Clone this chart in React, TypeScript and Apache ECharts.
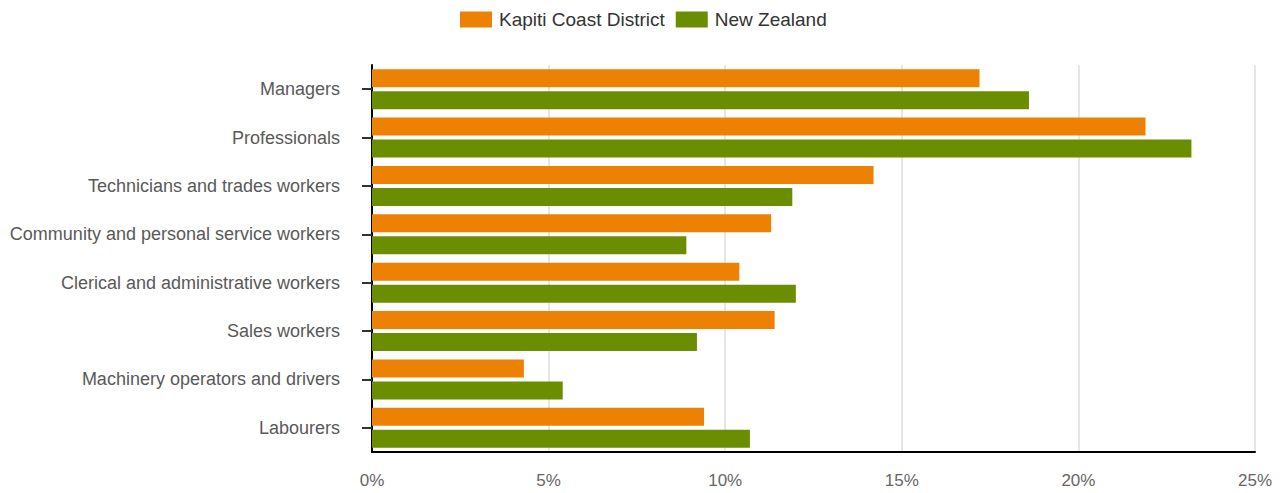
import React, { useEffect, useRef } from "react";
import * as echarts from "echarts";

const categories = [
  "Managers",
  "Professionals",
  "Technicians and trades workers",
  "Community and personal service workers",
  "Clerical and administrative workers",
  "Sales workers",
  "Machinery operators and drivers",
  "Labourers",
];
const kapiti = [17.2, 21.9, 14.2, 11.3, 10.4, 11.4, 4.3, 9.4];
const newZealand = [18.6, 23.2, 11.9, 8.9, 12.0, 9.2, 5.4, 10.7];

export default function App() {
  const ref = useRef<HTMLDivElement>(null);
  useEffect(() => {
    if (!ref.current) return;
    const chart = echarts.init(ref.current, null, { renderer: "svg" });
    chart.setOption({
      animation: false,
      textStyle: { fontFamily: "Liberation Sans, Arial, sans-serif" },
      legend: {
        top: 5,
        left: 455,
        itemWidth: 32,
        itemHeight: 16,
        itemGap: 11,
        icon: "rect",
        textStyle: { fontSize: 19, color: "#333", padding: [0, 0, 0, 2] },
        data: ["Kapiti Coast District", "New Zealand"],
      },
      grid: {
        left: 372,
        right: 25,
        top: 65,
        bottom: 41,
        containLabel: false,
        outerBoundsMode: "none",
      },
      xAxis: {
        type: "value",
        min: 0,
        max: 25,
        interval: 5,
        axisLabel: { formatter: "{value}%", fontSize: 17, color: "#666", margin: 20 },
        splitLine: { show: true, lineStyle: { color: "#e6e6e6", width: 2 } },
        axisLine: { show: true, lineStyle: { color: "#000", width: 2 } },
        axisTick: { show: false },
      },
      yAxis: {
        type: "category",
        inverse: true,
        data: categories,
        axisLabel: { fontSize: 18, color: "#595959", margin: 32, padding: [3, 0, 0, 0] },
        axisLine: { show: true, lineStyle: { color: "#000", width: 2 } },
        axisTick: { show: true, alignWithLabel: true, length: 10, lineStyle: { color: "#333", width: 2 } },
        splitLine: { show: false },
      },
      series: [
        {
          name: "Kapiti Coast District",
          type: "bar",
          data: kapiti,
          itemStyle: { color: "#EC8104" },
          barWidth: 18,
          barGap: "22%",
          barCategoryGap: "17%",
        },
        {
          name: "New Zealand",
          type: "bar",
          data: newZealand,
          itemStyle: { color: "#6B8E00" },
          barWidth: 18,
        },
      ],
    });
    return () => chart.dispose();
  }, []);
  return (
    <div
      style={{
        position: "absolute",
        left: 0,
        top: 0,
        width: 1280,
        height: 493,
        overflow: "hidden",
      }}
    >
      <div ref={ref} style={{ width: 1280, height: 493 }} />
    </div>
  );
}
